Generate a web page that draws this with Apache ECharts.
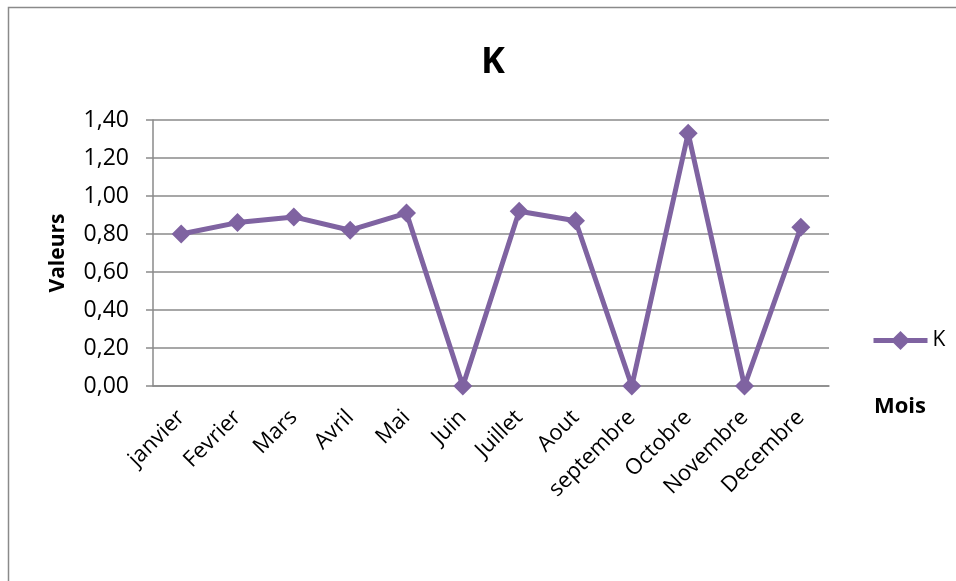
<!DOCTYPE html>
<html><head><meta charset="utf-8">
<script src="https://cdn.jsdelivr.net/npm/echarts@6/dist/echarts.min.js"></script>
<style>html,body{margin:0;padding:0;background:#fff}#c{width:956px;height:581px}</style>
</head><body><div id="c"></div>
<script>
const categories = ['janvier','Fevrier','Mars','Avril','Mai','Juin','Juillet','Aout','septembre','Octobre','Novembre','Decembre'];
const kValues = [0.80, 0.86, 0.89, 0.82, 0.91, 0.00, 0.92, 0.87, 0.00, 1.33, 0.00, 0.835];
const seriesName = 'K';
const xAxisTitle = 'Mois';
const yAxisTitle = 'Valeurs';
const yTicks = {min: 0, max: 1.4, interval: 0.2};

const font = 'Open Sans';
const purple = '#7F63A1';
const chart = echarts.init(document.getElementById('c'));
chart.setOption({
  animation: false,
  backgroundColor: '#fff',
  title: {text: seriesName, left: 488, top: 40, textAlign: 'center',
    textStyle: {fontFamily: font, fontSize: 36, fontWeight: 'bold', color: '#000'}},
  graphic: [
    {type: 'rect', shape: {x: 8.5, y: 7.5, width: 960, height: 590},
      style: {fill: 'none', stroke: '#8a8a8a', lineWidth: 1.5}, silent: true},
    {type: 'text', left: 874, top: 396,
      style: {text: xAxisTitle, fontFamily: font, fontSize: 22, fontWeight: 'bold', fill: '#000'}}
  ],
  legend: {data: [seriesName], left: 866, top: 325, itemWidth: 54, itemHeight: 24, itemGap: 4,
    lineStyle: {width: 5},
    textStyle: {fontFamily: font, fontSize: 21, color: '#000'}},
  grid: {left: 153, right: 127, top: 120, bottom: 195},
  xAxis: {type: 'category', data: categories, boundaryGap: true,
    axisLine: {lineStyle: {color: '#8a8a8a', width: 1.5}},
    axisTick: {show: false},
    axisLabel: {rotate: 45, margin: 28, fontFamily: font, fontSize: 22, color: '#000', interval: 0}},
  yAxis: {type: 'value', min: yTicks.min, max: yTicks.max, interval: yTicks.interval,
    name: yAxisTitle, nameLocation: 'middle', nameRotate: 90, nameGap: 84,
    nameTextStyle: {fontFamily: font, fontSize: 21, fontWeight: 'bold', color: '#000'},
    axisLine: {show: true, lineStyle: {color: '#8a8a8a', width: 1.5}},
    axisTick: {show: true, length: 7, lineStyle: {color: '#8a8a8a', width: 1.5}},
    splitLine: {lineStyle: {color: '#8a8a8a', width: 1.5}},
    axisLabel: {margin: 24, fontFamily: font, fontSize: 23, color: '#000',
      formatter: v => v.toFixed(2).replace('.', ',')}},
  series: [{name: seriesName, type: 'line', data: kValues,
    symbol: 'diamond', symbolSize: 19,
    lineStyle: {color: purple, width: 5},
    itemStyle: {color: purple}}]
});
</script></body></html>
